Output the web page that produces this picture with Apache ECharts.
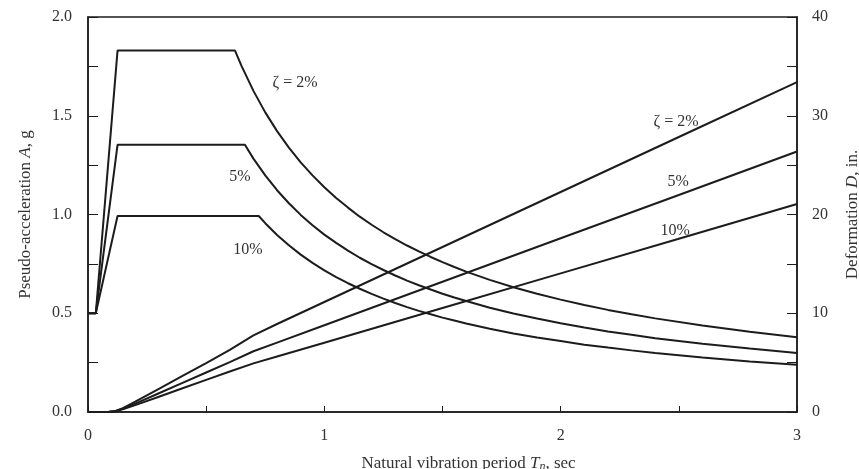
<!DOCTYPE html>
<html>
<head>
<meta charset="utf-8">
<script src="https://cdn.jsdelivr.net/npm/echarts@6/dist/echarts.min.js"></script>
<style>html,body{margin:0;padding:0;background:#fff;}#c{width:859px;height:469px;}</style>
</head>
<body>
<div id="c"></div>
<script>
// Pseudo-acceleration A (g) vs period T (s)
const periodA2  = [0, 0.033, 0.125, 0.622, 0.65, 0.7, 0.75, 0.8, 0.85, 0.9, 0.95, 1.0, 1.05, 1.1, 1.15, 1.2, 1.25, 1.3, 1.35, 1.4, 1.45, 1.5, 1.55, 1.6, 1.7, 1.8, 1.9, 2.0, 2.1, 2.2, 2.3, 2.4, 2.6, 2.8, 3.0];
const accel2    = [0.5, 0.5, 1.83, 1.83, 1.751, 1.626, 1.517, 1.422, 1.339, 1.264, 1.198, 1.138, 1.084, 1.035, 0.989, 0.948, 0.910, 0.875, 0.843, 0.813, 0.785, 0.759, 0.734, 0.711, 0.669, 0.632, 0.599, 0.569, 0.542, 0.517, 0.495, 0.474, 0.438, 0.406, 0.379];
const periodA5  = [0, 0.033, 0.125, 0.664, 0.7, 0.75, 0.8, 0.85, 0.9, 0.95, 1.0, 1.05, 1.1, 1.15, 1.2, 1.25, 1.3, 1.35, 1.4, 1.45, 1.5, 1.55, 1.6, 1.7, 1.8, 1.9, 2.0, 2.1, 2.2, 2.3, 2.4, 2.6, 2.8, 3.0];
const accel5    = [0.5, 0.5, 1.353, 1.353, 1.283, 1.198, 1.123, 1.057, 0.998, 0.946, 0.898, 0.856, 0.817, 0.781, 0.749, 0.719, 0.691, 0.665, 0.642, 0.620, 0.599, 0.580, 0.562, 0.528, 0.499, 0.473, 0.449, 0.428, 0.408, 0.391, 0.374, 0.346, 0.321, 0.299];
const periodA10 = [0, 0.033, 0.125, 0.7225, 0.75, 0.8, 0.85, 0.9, 0.95, 1.0, 1.05, 1.1, 1.15, 1.2, 1.25, 1.3, 1.35, 1.4, 1.45, 1.5, 1.55, 1.6, 1.7, 1.8, 1.9, 2.0, 2.1, 2.2, 2.3, 2.4, 2.6, 2.8, 3.0];
const accel10   = [0.5, 0.5, 0.9925, 0.9925, 0.956, 0.896, 0.844, 0.797, 0.755, 0.717, 0.683, 0.652, 0.624, 0.598, 0.574, 0.552, 0.531, 0.512, 0.495, 0.478, 0.463, 0.448, 0.422, 0.398, 0.377, 0.359, 0.341, 0.326, 0.312, 0.299, 0.276, 0.256, 0.239];

// Deformation D (in.) vs period T (s)
const periodD2  = [0, 0.05, 0.09, 0.115, 0.15, 0.2, 0.3, 0.4, 0.5, 0.6, 0.7, 0.8, 1.0, 1.5, 2.0, 2.5, 3.0];
const deform2   = [0, 0.01, 0.03, 0.09, 0.42, 1.05, 2.35, 3.65, 4.95, 6.3, 7.75, 8.91, 11.14, 16.71, 22.28, 27.85, 33.41];
const periodD5  = [0, 0.05, 0.09, 0.115, 0.15, 0.2, 0.3, 0.4, 0.5, 0.6, 0.7, 0.8, 1.0, 1.5, 2.0, 2.5, 3.0];
const deform5   = [0, 0.01, 0.03, 0.07, 0.35, 0.85, 1.9, 2.95, 4.0, 5.05, 6.15, 7.03, 8.79, 13.19, 17.59, 21.98, 26.38];
const periodD10 = [0, 0.05, 0.09, 0.115, 0.15, 0.2, 0.3, 0.4, 0.5, 0.6, 0.7, 0.8, 1.0, 1.5, 2.0, 2.5, 3.0];
const deform10  = [0, 0.01, 0.03, 0.06, 0.3, 0.7, 1.55, 2.4, 3.25, 4.1, 4.92, 5.62, 7.02, 10.53, 14.04, 17.55, 21.06];

const xTicks = [0, 1, 2, 3];
const leftTicks = [0.0, 0.5, 1.0, 1.5, 2.0];
const rightTicks = [0, 10, 20, 30, 40];

const zip = (xs, ys) => xs.map((x, i) => [x, ys[i]]);

const FONT = 'Liberation Serif';
const INK = '#1c1c1c';
const TXT = '#333';

function curve(name, xs, ys, axis, labelText, lx, ly) {
  return {
    name, type: 'line', yAxisIndex: axis, data: zip(xs, ys),
    showSymbol: false, silent: true,
    lineStyle: { color: INK, width: 2 },
    markPoint: {
      symbolSize: 0, silent: true,
      label: { show: true, formatter: labelText, fontFamily: FONT, fontSize: 16, color: TXT, position: 'inside' },
      data: [{ coord: [lx, ly] }]
    }
  };
}

const chart = echarts.init(document.getElementById('c'), null, { renderer: 'canvas' });
const axisLineStyle = { show: true, lineStyle: { color: INK, width: 1.5 } };
chart.setOption({
  animation: false,
  backgroundColor: '#fff',
  grid: { left: 88, right: 62, top: 17, bottom: 57, outerBoundsMode: 'none', containLabel: false,
    show: true, borderColor: INK, borderWidth: 1.5 },
  xAxis: {
    type: 'value', min: 0, max: 3, interval: 0.5,
    axisLine: axisLineStyle,
    axisTick: { show: true, inside: true, length: 6, lineStyle: { color: INK } },
    splitLine: { show: false },
    axisLabel: { interval: 1, margin: 16, fontFamily: FONT, fontSize: 16, color: TXT,
      formatter: v => (xTicks.includes(v) ? String(v) : '') },
    name: '{a|Natural vibration period }{i|T}{s|n}{a|, sec}',
    nameLocation: 'middle', nameGap: 42,
    nameTextStyle: { padding: [0, 0, 0, 52], rich: {
      a: { fontFamily: FONT, fontSize: 17, color: TXT },
      i: { fontFamily: FONT, fontSize: 17, color: TXT, fontStyle: 'italic' },
      s: { fontFamily: FONT, fontSize: 12, color: TXT, fontStyle: 'italic', padding: [7, 0, 0, 0] }
    } }
  },
  yAxis: [{
    type: 'value', min: 0, max: 2, interval: 0.25,
    axisLine: axisLineStyle,
    axisTick: { show: true, inside: true, length: 10, lineStyle: { color: INK } },
    splitLine: { show: false },
    axisLabel: { interval: 1, margin: 16, fontFamily: FONT, fontSize: 16, color: TXT,
      formatter: v => (leftTicks.includes(v) ? v.toFixed(1) : '') },
    name: '{a|Pseudo-acceleration }{i|A}{a|, g}',
    nameLocation: 'middle', nameGap: 54, nameRotate: 90,
    nameTextStyle: { rich: {
      a: { fontFamily: FONT, fontSize: 17, color: TXT },
      i: { fontFamily: FONT, fontSize: 17, color: TXT, fontStyle: 'italic' }
    } }
  }, {
    type: 'value', min: 0, max: 40, interval: 5, position: 'right',
    axisLine: axisLineStyle,
    axisTick: { show: true, inside: true, length: 10, lineStyle: { color: INK } },
    splitLine: { show: false },
    axisLabel: { interval: 1, margin: 15, fontFamily: FONT, fontSize: 16, color: TXT,
      formatter: v => (rightTicks.includes(v) ? String(v) : '') },
    name: '{a|Deformation }{i|D}{a|, in.}',
    nameLocation: 'middle', nameGap: 47, nameRotate: 90,
    nameTextStyle: { rich: {
      a: { fontFamily: FONT, fontSize: 17, color: TXT },
      i: { fontFamily: FONT, fontSize: 17, color: TXT, fontStyle: 'italic' }
    } }
  }],
  series: [
    curve('A 2%', periodA2, accel2, 0, 'ζ = 2%', 0.876, 1.666),
    curve('A 5%', periodA5, accel5, 0, '5%', 0.643, 1.19),
    curve('A 10%', periodA10, accel10, 0, '10%', 0.677, 0.82),
    curve('D 2%', periodD2, deform2, 1, 'ζ = 2%', 2.488, 29.4),
    curve('D 5%', periodD5, deform5, 1, '5%', 2.497, 23.3),
    curve('D 10%', periodD10, deform10, 1, '10%', 2.484, 18.4)
  ]
});
</script>
</body>
</html>
